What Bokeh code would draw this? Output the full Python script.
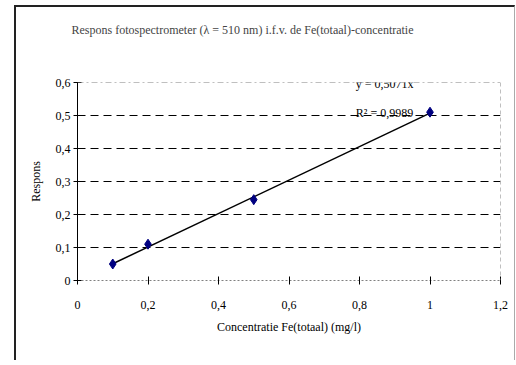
from bokeh.plotting import figure
from bokeh.models import Range1d, FixedTicker, Label, Span, ColorBar, LinearColorMapper
from bokeh.embed import file_html
from bokeh.resources import INLINE

# data
concentration = [0.1, 0.2, 0.5, 1.0]
response = [0.05, 0.11, 0.245, 0.51]
slope = 0.5071
r_squared_text = "R² = 0,9989"
equation_text = "y = 0,5071x"
title_text = "Respons fotospectrometer (λ = 510 nm) i.f.v. de Fe(totaal)-concentratie"
x_label = "Concentratie Fe(totaal) (mg/l)"
y_label = "Respons"
x_ticks = [0, 0.2, 0.4, 0.6, 0.8, 1.0, 1.2]
x_tick_labels = ["0", "0,2", "0,4", "0,6", "0,8", "1", "1,2"]
y_ticks = [0, 0.1, 0.2, 0.3, 0.4, 0.5, 0.6]
y_tick_labels = ["0", "0,1", "0,2", "0,3", "0,4", "0,5", "0,6"]

FONT = "Liberation Serif"

p = figure(width=501, height=355, x_range=Range1d(0, 1.2), y_range=Range1d(0, 0.6),
           output_backend="svg", toolbar_location=None,
           min_border_left=61, min_border_right=17, min_border_top=75, min_border_bottom=82)
p.background_fill_color = "white"
p.border_fill_color = "white"
p.outline_line_color = None
p.styles = {"margin-left": "14px", "margin-top": "5px",
            "border-left": "2px solid #222222", "border-top": "2px solid #222222",
            "border-right": "1px solid #aaaaaa"}

xax = p.below[0]
yax = p.left[0]

# invisible spacer between title and plot area (draws nothing, no texts)
spacer = ColorBar(color_mapper=LinearColorMapper(palette=["#ffffff"], low=0, high=1),
                  orientation="horizontal", height=46, padding=0, margin=0,
                  ticker=FixedTicker(ticks=[]), bar_line_color=None, border_line_color=None,
                  background_fill_alpha=0, scale_alpha=0,
                  major_tick_line_color=None, minor_tick_line_color=None)
p.add_layout(spacer, "above")

# title
p.title.text = title_text
p.title.text_font = FONT
p.title.text_font_size = "12px"
p.title.text_font_style = "normal"
p.title.align = "left"
p.title.offset = -6
p.title.standoff = 0

# axes
xax.ticker = FixedTicker(ticks=x_ticks)
xax.major_label_overrides = {t: l for t, l in zip(x_ticks, x_tick_labels)}
yax.ticker = FixedTicker(ticks=y_ticks)
yax.major_label_overrides = {t: l for t, l in zip(y_ticks, y_tick_labels)}
for ax in (xax, yax):
    ax.major_tick_in = 4
    ax.major_tick_out = 4
    ax.minor_tick_in = 0
    ax.minor_tick_out = 0
    ax.major_tick_line_color = "black"
    ax.major_label_text_font = FONT
    ax.major_label_text_font_size = "12px"
    ax.major_label_text_color = "black"
    ax.axis_label_text_font = FONT
    ax.axis_label_text_font_size = "12px"
    ax.axis_label_text_font_style = "normal"
    ax.axis_label_text_color = "black"
yax.axis_line_color = "black"
xax.axis_line_color = "#808080"
xax.axis_line_dash = "2 2"
xax.major_label_standoff = 16
yax.major_label_standoff = 3
xax.axis_label = x_label
xax.axis_label_standoff = 8
yax.axis_label = y_label
yax.axis_label_standoff = 10

# grid
p.xgrid.grid_line_color = None
p.ygrid.ticker = FixedTicker(ticks=y_ticks[1:-1])
p.ygrid.grid_line_color = "black"
p.ygrid.grid_line_dash = "8 5"

# plot area top/right border
p.add_layout(Span(location=0.6, dimension="width", line_color="#808080", line_dash="6 3 2 3", line_width=1))
p.add_layout(Span(location=1.2, dimension="height", line_color="#808080", line_dash="4 3", line_width=1))

# trendline through origin, over the data range
tx = [min(concentration), max(concentration)]
ty = [slope * v for v in tx]
p.line(tx, ty, line_color="black", line_width=1.5)

# data points
p.scatter(concentration, response, marker="diamond", size=10, fill_color="#000080", line_color="#000080")

# trendline texts
p.add_layout(Label(x=0.871, y=0.594, text=equation_text, text_font=FONT, text_font_size="12px",
                   text_align="center", text_baseline="middle", text_color="black"))
p.add_layout(Label(x=0.871, y=0.508, text=r_squared_text, text_font=FONT, text_font_size="12px",
                   text_align="center", text_baseline="middle", text_color="black"))

open("out.html", "w").write(file_html(p, INLINE))
